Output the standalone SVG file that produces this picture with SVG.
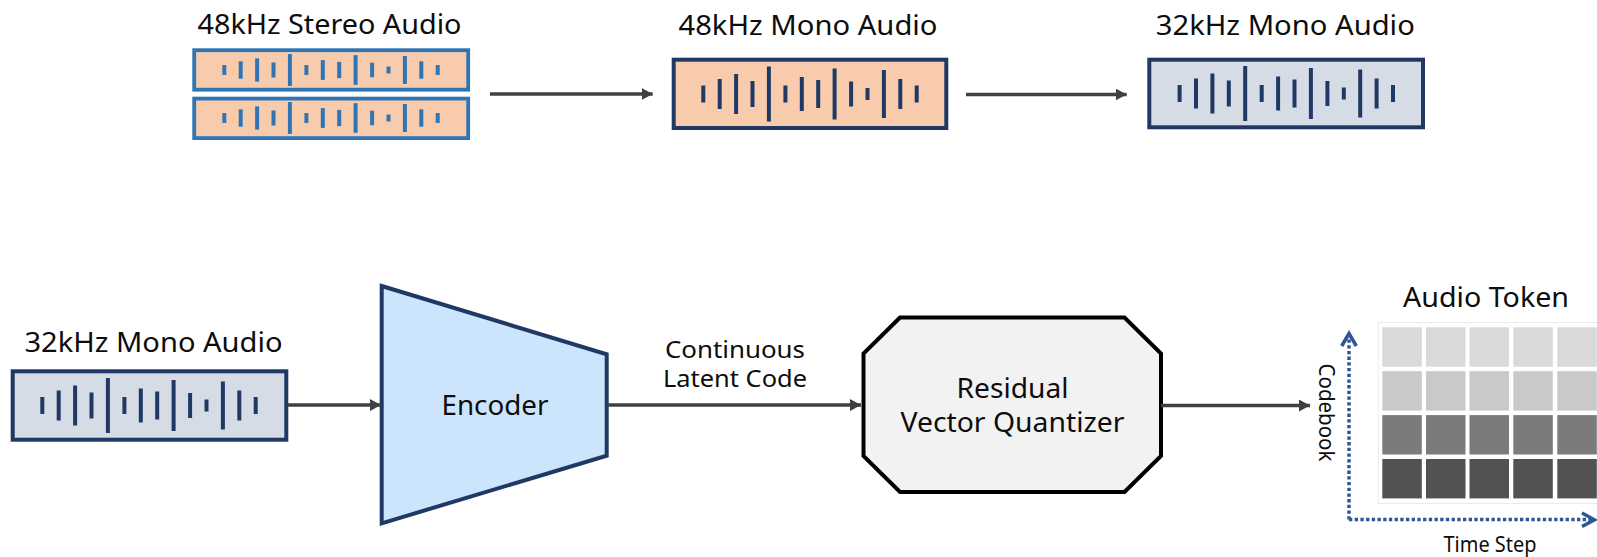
<svg xmlns="http://www.w3.org/2000/svg" xmlns:xlink="http://www.w3.org/1999/xlink" width="1597" height="557" viewBox="0 0 1597 557">
  <style>
    text { font-family: "Noto Sans", "Open Sans", sans-serif; fill: #0d0d0d; }
    .title { font-size: 28px; text-anchor: middle; }
    .label { font-size: 24px; text-anchor: middle; }
    .axis { font-size: 21px; text-anchor: middle; }
    .flow { stroke: #404040; stroke-width: 3.5; fill: none; marker-end: url(#head); }
    .mono48 { fill: #f8cbad; stroke: #1f3864; stroke-width: 4; }
    .mono32 { fill: #d6dce5; stroke: #1f3864; stroke-width: 4; }
    .stereo { fill: #f8cbad; stroke: #2e75b6; stroke-width: 3.8; }
    .dots { stroke: #2f5597; stroke-width: 3.5; stroke-dasharray: 3.3 2.4; fill: none; }
    .chev { stroke: #2f5597; stroke-width: 3.5; fill: none; stroke-linejoin: miter; }
    .r1 { fill: #d9d9d9; } .r2 { fill: #c9c9c9; } .r3 { fill: #7b7b7b; } .r4 { fill: #525252; }
  </style>
  <defs>
    <marker id="head" markerUnits="userSpaceOnUse" markerWidth="12" markerHeight="12" refX="11" refY="6" orient="auto">
      <path d="M0,0 L11,6 L0,12 Z" fill="#404040"/>
    </marker>
    <!-- waveform bars, centred on (0,0); stroke is inherited from the <use> -->
    <g id="wave" stroke-width="4" fill="none">
      <line x1="-106.7" y1="-8.5" x2="-106.7" y2="8.5"/>
      <line x1="-90.3" y1="-15" x2="-90.3" y2="15"/>
      <line x1="-73.9" y1="-20" x2="-73.9" y2="20"/>
      <line x1="-57.5" y1="-13" x2="-57.5" y2="13"/>
      <line x1="-41.1" y1="-27.5" x2="-41.1" y2="27.5"/>
      <line x1="-24.6" y1="-8.5" x2="-24.6" y2="8.5"/>
      <line x1="-8.2" y1="-17" x2="-8.2" y2="17"/>
      <line x1="8.2" y1="-14" x2="8.2" y2="14"/>
      <line x1="24.6" y1="-25.5" x2="24.6" y2="25.5"/>
      <line x1="41.1" y1="-12.5" x2="41.1" y2="12.5"/>
      <line x1="57.5" y1="-6" x2="57.5" y2="6"/>
      <line x1="73.9" y1="-24" x2="73.9" y2="24"/>
      <line x1="90.3" y1="-15" x2="90.3" y2="15"/>
      <line x1="106.7" y1="-8.5" x2="106.7" y2="8.5"/>
    </g>
  </defs>

  <!-- top row: resampling pipeline -->
  <g id="stereo48">
    <text class="title" x="329.5" y="34" textLength="264" lengthAdjust="spacingAndGlyphs">48kHz Stereo Audio</text>
    <rect class="stereo" x="194.2" y="50.2" width="274" height="39.5"/>
    <rect class="stereo" x="194.2" y="98.6" width="274" height="39.5"/>
    <use xlink:href="#wave" stroke="#2e75b6" transform="translate(331,70) scale(1,0.58)" stroke-width="3.5"/>
    <use xlink:href="#wave" stroke="#2e75b6" transform="translate(331,118) scale(1,0.58)" stroke-width="3.5"/>
  </g>

  <g id="mono48">
    <text class="title" x="808" y="35" textLength="259" lengthAdjust="spacingAndGlyphs">48kHz Mono Audio</text>
    <rect class="mono48" x="673.7" y="59.7" width="272.6" height="68.3"/>
    <use xlink:href="#wave" stroke="#1f3864" transform="translate(810,94)"/>
  </g>

  <g id="mono32-top">
    <text class="title" x="1285.3" y="35" textLength="259" lengthAdjust="spacingAndGlyphs">32kHz Mono Audio</text>
    <rect class="mono32" x="1149.3" y="59.7" width="273.7" height="67.6"/>
    <use xlink:href="#wave" stroke="#1f3864" transform="translate(1286.3,93.5)"/>
  </g>

  <!-- bottom row: tokenizer -->
  <g id="mono32-input">
    <text class="title" x="153.5" y="351.5" textLength="258" lengthAdjust="spacingAndGlyphs">32kHz Mono Audio</text>
    <rect class="mono32" x="12.7" y="371.3" width="273.6" height="68.4"/>
    <use xlink:href="#wave" stroke="#1f3864" transform="translate(149,405.5)"/>
  </g>

  <g id="encoder">
    <polygon points="381.7,286 606.7,354.3 606.7,455.7 381.7,523.3" fill="#cde5fc" stroke="#1f3864" stroke-width="4" stroke-linejoin="miter"/>
    <text class="title" x="495" y="415" textLength="107" lengthAdjust="spacingAndGlyphs">Encoder</text>
  </g>

  <g id="latent-label">
    <text class="label" x="735" y="358" textLength="140" lengthAdjust="spacingAndGlyphs">Continuous</text>
    <text class="label" x="735" y="387" textLength="144" lengthAdjust="spacingAndGlyphs">Latent Code</text>
  </g>

  <g id="rvq">
    <polygon points="900,317.5 1124.5,317.5 1161,353.5 1161,456 1124.5,492 900,492 863.5,456 863.5,353.5" fill="#f2f2f2" stroke="#000" stroke-width="4"/>
    <text class="title" x="1012.5" y="398" textLength="112" lengthAdjust="spacingAndGlyphs">Residual</text>
    <text class="title" x="1012.5" y="431.5" textLength="224" lengthAdjust="spacingAndGlyphs">Vector Quantizer</text>
  </g>

  <g id="audio-token">
    <text class="title" x="1486" y="307" textLength="166" lengthAdjust="spacingAndGlyphs">Audio Token</text>
    <rect x="1378.3" y="322.5" width="230" height="181" fill="#fff" stroke="#ebebeb" stroke-width="1"/>
    <g class="r1">
      <rect x="1382.3" y="327.3" width="39.5" height="39.4"/>
      <rect x="1426" y="327.3" width="39.5" height="39.4"/>
      <rect x="1469.5" y="327.3" width="39.5" height="39.4"/>
      <rect x="1513.3" y="327.3" width="39.5" height="39.4"/>
      <rect x="1557.3" y="327.3" width="39.5" height="39.4"/>
    </g>
    <g class="r2">
      <rect x="1382.3" y="371.2" width="39.5" height="39.4"/>
      <rect x="1426" y="371.2" width="39.5" height="39.4"/>
      <rect x="1469.5" y="371.2" width="39.5" height="39.4"/>
      <rect x="1513.3" y="371.2" width="39.5" height="39.4"/>
      <rect x="1557.3" y="371.2" width="39.5" height="39.4"/>
    </g>
    <g class="r3">
      <rect x="1382.3" y="415.1" width="39.5" height="39.4"/>
      <rect x="1426" y="415.1" width="39.5" height="39.4"/>
      <rect x="1469.5" y="415.1" width="39.5" height="39.4"/>
      <rect x="1513.3" y="415.1" width="39.5" height="39.4"/>
      <rect x="1557.3" y="415.1" width="39.5" height="39.4"/>
    </g>
    <g class="r4">
      <rect x="1382.3" y="459" width="39.5" height="39.4"/>
      <rect x="1426" y="459" width="39.5" height="39.4"/>
      <rect x="1469.5" y="459" width="39.5" height="39.4"/>
      <rect x="1513.3" y="459" width="39.5" height="39.4"/>
      <rect x="1557.3" y="459" width="39.5" height="39.4"/>
    </g>
    <!-- axes -->
    <line class="dots" x1="1349" y1="519.5" x2="1349" y2="336"/>
    <polyline class="chev" points="1341.7,346 1349,333.5 1356.3,346"/>
    <line class="dots" x1="1349" y1="519.5" x2="1592" y2="519.5"/>
    <polyline class="chev" points="1582,513 1594.5,519.8 1582,526.5"/>
    <text class="axis" transform="translate(1319,412.5) rotate(90)" textLength="98" lengthAdjust="spacingAndGlyphs">Codebook</text>
    <text class="axis" x="1490" y="551.5" textLength="93" lengthAdjust="spacingAndGlyphs">Time Step</text>
  </g>

  <g id="connectors">
    <line class="flow" x1="490" y1="94" x2="652.7" y2="94"/>
    <line class="flow" x1="966" y1="94.5" x2="1126.7" y2="94.5"/>
    <line class="flow" x1="288" y1="405" x2="381" y2="405"/>
    <line class="flow" x1="607" y1="405" x2="861" y2="405"/>
    <line class="flow" x1="1161" y1="405.5" x2="1310" y2="405.5"/>
  </g>
</svg>
